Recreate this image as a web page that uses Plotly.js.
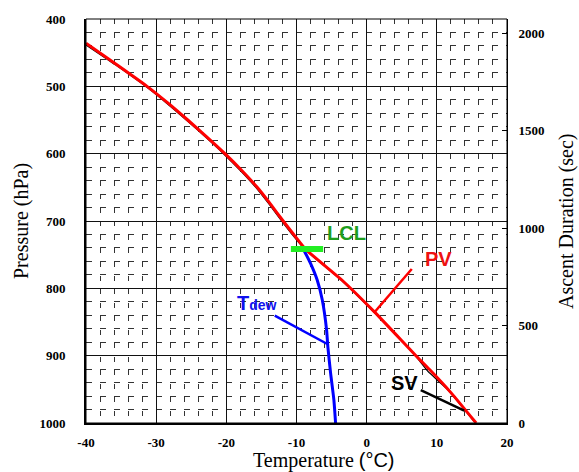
<!DOCTYPE html>
<html>
<head>
<meta charset="utf-8">
<script src="https://cdn.plot.ly/plotly-3.0.1.min.js"></script>
<style>html,body{margin:0;padding:0;background:#fff;}#chart{width:579px;height:472px;}</style>
</head>
<body>
<div id="chart"></div>
<script>
// Parcel (PV) temperature profile, degC vs pressure hPa
const pvTemp = [-40.0, -35.6, -31.3, -28.3, -25.5, -22.8, -20.2, -17.8, -15.6, -13.7, -11.9, -10.4, -8.7, -3.5, 1.1, 7.2, 9.0, 12.1, 15.6];
const pvPres = [436, 468, 500, 525, 550, 575, 600, 625, 650, 675, 700, 720, 742, 788, 835, 902, 921, 956, 1000];
// SV profile (thin black line)
const svTemp = [-40.2, -35.8, -31.5, -28.5, -25.7, -23.0, -20.4, -18.0, -15.8, -13.9, -12.1, -10.6, -8.8, -3.6, 1.0, 7.1, 8.7, 11.6, 14.4, 15.5];
const svPres = [437, 468, 500, 525, 550, 575, 600, 625, 650, 675, 700, 720, 742, 788, 835, 902, 923, 951, 986, 1000];
// Dew point profile
const dewTemp = [-8.96, -8.0, -7.04, -6.33, -5.71, -5.53, -5.14, -4.67, -4.43];
const dewPres = [743, 763, 788, 817, 862, 887, 926, 966, 1000];
// LCL marker
const lclTemp = [-10.8, -6.2];
const lclPres = [741.6, 741.6];
// Axis ticks
const presTicks = [400, 500, 600, 700, 800, 900, 1000];
const tempTicks = [-40, -30, -20, -10, 0, 10, 20];
const durTicks = [0, 500, 1000, 1500, 2000];

const serif = 'Liberation Serif, Times New Roman, serif';
const sans = 'Liberation Sans, Arial, sans-serif';
const tickFont = {family: serif, size: 13, color: '#000', weight: 'bold'};
const titleFont = {family: serif, size: 20, color: '#000'};
const labFont = (c) => ({family: sans, size: 20, color: c, weight: 'bold'});

const traces = [
  {x: svTemp, y: svPres, mode: 'lines', line: {color: '#000', width: 1.3, shape: 'spline', smoothing: 0.5}, hoverinfo: 'skip'},
  {x: pvTemp, y: pvPres, mode: 'lines', line: {color: '#ff0000', width: 3, shape: 'spline', smoothing: 0.5}, hoverinfo: 'skip'},
  {x: dewTemp, y: dewPres, mode: 'lines', line: {color: '#0000ff', width: 3, shape: 'spline', smoothing: 0.5}, hoverinfo: 'skip'},
  {x: lclTemp, y: lclPres, mode: 'lines', line: {color: '#22ee22', width: 6}, hoverinfo: 'skip'},
  // carrier for the right-hand duration axis (draws nothing)
  {x: [tempTicks[0], tempTicks[0]], y: [durTicks[0], durTicks[durTicks.length - 1]], yaxis: 'y2', mode: 'none', hoverinfo: 'skip'}
];

const layout = {
  width: 579, height: 472,
  margin: {l: 86, r: 72, t: 19, b: 49, pad: 0},
  paper_bgcolor: '#fff', plot_bgcolor: '#fff',
  showlegend: false, hovermode: false,
  xaxis: {
    range: [-40, 20], tickvals: tempTicks, ticktext: tempTicks.map(String),
    showgrid: true, gridcolor: '#111', gridwidth: 1,
    minor: {dtick: 2, showgrid: true, gridcolor: '#333', gridwidth: 1, griddash: '5px,8.5px'},
    showline: true, linecolor: '#000', linewidth: 2,
    ticks: '', tickfont: tickFont, ticklabelstandoff: 6,
    zeroline: false
  },
  yaxis: {
    range: [1000, 400], tickvals: presTicks, ticktext: presTicks.map(String),
    showgrid: true, gridcolor: '#111', gridwidth: 1,
    minor: {dtick: 20, showgrid: true, gridcolor: '#333', gridwidth: 1, griddash: '6px,8px'},
    showline: true, linecolor: '#000', linewidth: 2,
    ticks: '', tickfont: tickFont, ticklabelstandoff: 16,
    zeroline: false
  },
  yaxis2: {
    overlaying: 'y', side: 'right', anchor: 'x', range: [0, 2071.8],
    tickvals: durTicks, ticktext: durTicks.map(String),
    showgrid: false, zeroline: false,
    showline: true, linecolor: '#000', linewidth: 1,
    ticks: 'inside', ticklen: 5, tickcolor: '#000',
    tickfont: tickFont, ticklabelstandoff: 8
  },
  shapes: [
    {type: 'rect', xref: 'paper', yref: 'paper', x0: 0, x1: 1, y0: 0, y1: 1, line: {color: '#000', width: 1}},
    {type: 'line', xref: 'x', yref: 'y', x0: 6.43, y0: 771.3, x1: 1.05, y1: 836.2, line: {color: '#ff0000', width: 2.5}},
    {type: 'line', xref: 'x', yref: 'y', x0: -13.1, y0: 840.6, x1: -5.61, y1: 882.7, line: {color: '#0000ff', width: 2.5}},
    {type: 'line', xref: 'x', yref: 'y', x0: 7.71, y0: 951, x1: 13.9, y1: 981.7, line: {color: '#000', width: 2.5}}
  ],
  annotations: [
    {x: -2.86, y: 717.8, xref: 'x', yref: 'y', text: 'LCL', showarrow: false, font: labFont('#1e9e1e')},
    {x: 10.3, y: 755.7, xref: 'x', yref: 'y', text: 'PV', showarrow: false, font: labFont('#ee1111')},
    {x: -15.57, y: 821.8, xref: 'x', yref: 'y', text: 'T<span style="font-size:14px">dew</span>', showarrow: false, font: labFont('#1010ee')},
    {x: 5.36, y: 941.3, xref: 'x', yref: 'y', text: 'SV', showarrow: false, font: labFont('#000')},
    // axis titles
    {x: 0.5653, y: 0, xref: 'paper', yref: 'paper', yshift: -37, xanchor: 'center', yanchor: 'middle', showarrow: false,
     text: 'Temperature <span style="font-family:Liberation Sans, Arial, sans-serif">(°C)</span>', font: titleFont},
    {x: 0, y: 0.5, xref: 'paper', yref: 'paper', xshift: -65, xanchor: 'center', yanchor: 'middle', textangle: -90, showarrow: false,
     text: 'Pressure (hPa)', font: titleFont},
    {x: 1, y: 0.5, xref: 'paper', yref: 'paper', xshift: 59, xanchor: 'center', yanchor: 'middle', textangle: -90, showarrow: false,
     text: 'Ascent Duration (sec)', font: titleFont}
  ]
};

Plotly.newPlot('chart', traces, layout, {staticPlot: true, displayModeBar: false});
</script>
</body>
</html>
